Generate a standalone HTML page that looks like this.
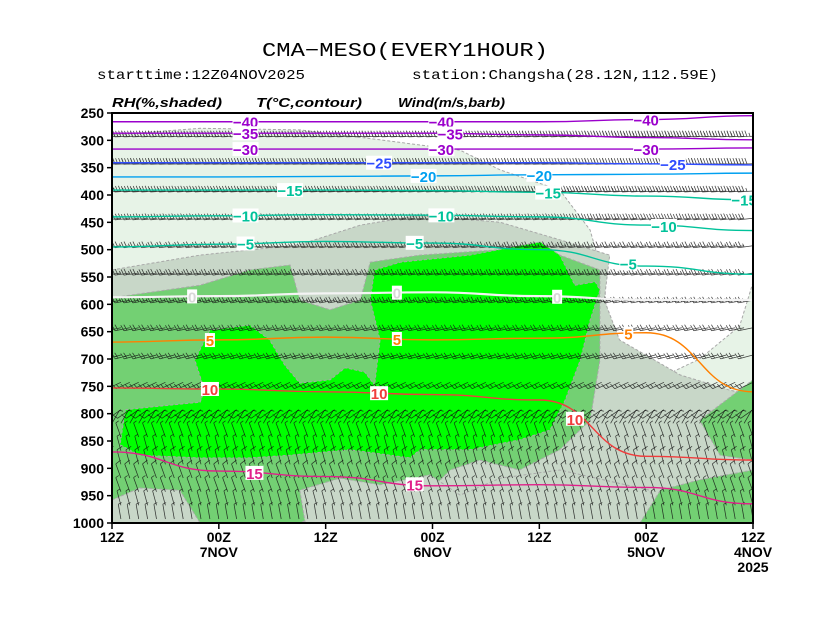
<!DOCTYPE html>
<html><head><meta charset="utf-8"><style>
html,body{margin:0;padding:0;background:#fff;}
svg{display:block;font-family:"Liberation Sans",sans-serif;}
</style></head><body>
<svg id="c" width="827" height="639" viewBox="0 0 827 639">
<rect width="827" height="639" fill="#fff"/>
<text x="405" y="56" text-anchor="middle" font-size="19" font-family="Liberation Mono,monospace" textLength="286" lengthAdjust="spacingAndGlyphs">CMA−MESO(EVERY1HOUR)</text>
<text x="97" y="79" font-size="14" font-family="Liberation Mono,monospace" textLength="208" lengthAdjust="spacingAndGlyphs">starttime:12Z04NOV2025</text>
<text x="412" y="79" font-size="14" font-family="Liberation Mono,monospace" textLength="306" lengthAdjust="spacingAndGlyphs">station:Changsha(28.12N,112.59E)</text>
<text x="112" y="107" font-size="13" font-weight="bold" font-style="italic" textLength="110" lengthAdjust="spacingAndGlyphs">RH(%,shaded)</text>
<text x="256" y="107" font-size="13" font-weight="bold" font-style="italic" textLength="106" lengthAdjust="spacingAndGlyphs">T(°C,contour)</text>
<text x="398" y="107" font-size="13" font-weight="bold" font-style="italic" textLength="107" lengthAdjust="spacingAndGlyphs">Wind(m/s,barb)</text>
<defs><clipPath id="pc"><rect x="112" y="113" width="641" height="410"/></clipPath></defs>
<g id="plot" clip-path="url(#pc)"></g>
<rect x="112" y="113" width="641" height="410" fill="none" stroke="#000" stroke-width="2"/>
<g id="axes"></g>
</svg>
<script>
// ---- data ----
const pressureTicks = [250,300,350,400,450,500,550,600,650,700,750,800,850,900,950,1000];
const timeTicks = [72,60,48,36,24,12,0];
const timeLabels = ["12Z","00Z","12Z","00Z","12Z","00Z","12Z"];
const dateLabels = ["","7NOV","","6NOV","","5NOV","4NOV"];
// RH shading polygons, [hour, hPa]
const rhWhite = [[72,250],[0,250],[0,560],[1.5,640],[6,700],[10.5,735],[16.1,700],[16.7,556],[18.3,464],[21.7,391],[28.4,354],[32.9,318],[41.9,299],[50.9,281],[62.1,278],[72,290]];
const rhGray = [[72,537],[62.1,510],[50.9,491],[44.1,455],[37.4,437],[28.4,450],[21.7,482],[16.1,510],[16.7,592],[15,665],[8.2,729],[2.6,757],[0,766],[0,1000],[72,1000]];
const rhMid1 = [[72,588],[62.1,565],[56.5,537],[52,528],[50.9,592],[47.5,610],[44.1,592],[43,523],[37.4,510],[28.4,500],[21.7,510],[17.2,537],[17.2,702],[18.3,812],[21.7,866],[26.2,903],[30.7,885],[34,903],[37.4,958],[47.5,976],[50.9,1000],[72,1000]];
const rhGray2 = [[72,958],[68.9,936],[64.4,940],[62.1,1000],[72,1000]];
const rhGray3 = [[50.3,1000],[50.9,940],[46.4,918],[41.9,930],[36.3,912],[32.9,949],[28.4,918],[21.7,903],[11.6,940],[10.4,1000]];
const rhMidR1 = [[6,812],[0,738],[0,885],[3.7,876]];
const rhMidR2 = [[12.7,1000],[10.4,940],[6,921],[0,903],[0,1000]];
const rhHigh = [[70.5,793],[67.7,788],[62.1,779],[61.6,757],[62.7,702],[61,647],[56.5,638],[54.3,665],[52.6,711],[50.9,744],[47.5,738],[45.8,716],[43.6,724],[42.5,748],[41.9,665],[43,592],[42.5,537],[39.6,523],[31.8,510],[23.9,486],[21.7,510],[20,565],[17.7,559],[17.2,574],[18.3,629],[19.4,702],[21.1,775],[22.8,830],[26.2,848],[31.8,866],[37.4,866],[38.5,881],[40.8,876],[45.3,866],[52,876],[56.5,881],[62.1,881],[68.9,876],[71.1,857]];
// temperature contours: pressure at hours 72,60,48,36,24,12,0
const contourHours = [72,60,48,36,24,12,0];
const tValues = [-40,-35,-30,-25,-20,-15,-10,-5,0,5,10,15];
const tPressures = [
 [266,266,266,266,266,262,255],
 [287,287,287,287,290,295,299],
 [316,316,316,316,316,316,314],
 [341,341,341,341,341,343,345],
 [367,367,366,365,363,362,360],
 [391,391,391,392,395,402,409],
 [440,438,436,437,440,455,465],
 [495,490,485,488,500,530,545],
 [587,585,580,578,585,592,592],
 [669,665,660,665,662,652,760],
 [753,755,760,765,775,878,885],
 [870,905,915,932,930,935,965]];
const tLabelHours = [[57,35,12],[57,34],[57,35,12],[42,9],[37,24],[52,23,1],[57,35,10],[57,38,14],[63,40,22],[61,40,14],[61,42,20],[56,38]];
// wind
const windLevels = [300,350,400,450,500,550,600,650,700,750,800,825,850,875,900,925,950,975,1000];
const windDir = [268,268,266,264,262,262,260,258,255,245,235,30,340,345,345,340,340,345,350];
const windSpeed = [38,34,30,26,22,20,20,18,16,12,8,5,6,7,8,8,7,6,5];
</script>
<script>
const NS="http://www.w3.org/2000/svg";
const X0=112,X1=753,Y0=113,Y1=523;
const xs=h=>X1-h*(X1-X0)/72;
const ys=p=>Y0+(p-250)*(Y1-Y0)/750;
const plot=document.getElementById('plot'), axes=document.getElementById('axes');
function mk(tag,attrs,parent){const e=document.createElementNS(NS,tag);for(const k in attrs)e.setAttribute(k,attrs[k]);parent.appendChild(e);return e;}
function poly(pts,fill,name,dash){
  const e=mk('polygon',{points:pts.map(q=>xs(q[0]).toFixed(1)+','+ys(q[1]).toFixed(1)).join(' '),fill:fill,stroke:dash?'#a8a8a8':'none','stroke-width':1,'stroke-dasharray':'3 2'},plot);
  
  
}
const base=mk('rect',{x:X0,y:Y0,width:X1-X0,height:Y1-Y0,fill:'#e7f3e7'},plot);


poly(rhWhite,'#ffffff','rh-below-30-shade',true);
poly(rhGray,'#c8d7c8','rh-50-70-shade',true);
poly(rhMid1,'#73d073','rh-70-90-shade',true);
poly(rhGray2,'#c8d7c8','rh-50-70-shade-low-left',true);
poly(rhGray3,'#c8d7c8','rh-50-70-shade-low-mid',true);
poly(rhMidR1,'#73d073','rh-70-90-shade-right',true);
poly(rhMidR2,'#73d073','rh-70-90-shade-right-low',true);
poly(rhHigh,'#00ff00','rh-above-90-shade',true);
// wind barbs
windLevels.forEach((lev,i)=>{
  const d=windDir[i]*Math.PI/180, sp=windSpeed[i];
  const sx=Math.sin(d), sy=-Math.cos(d);
  const px=-sy, py=sx;
  const L=15; let path='';
  for(let h=0;h<=72;h++){
    const ax=xs(h), ay=ys(lev)-4;
    const ex=ax+sx*L, ey=ay+sy*L;
    path+=`M${ax.toFixed(1)} ${ay.toFixed(1)}L${ex.toFixed(1)} ${ey.toFixed(1)}`;
    let s=sp, pos=0;
    while(s>=8){
      const bx=ex-sx*pos, by=ey-sy*pos;
      path+=`M${bx.toFixed(1)} ${by.toFixed(1)}l${(px*6+sx*2).toFixed(1)} ${(py*6+sy*2).toFixed(1)}`;
      s-=8; pos+=3;
    }
    if(s>=4){const bx=ex-sx*pos, by=ey-sy*pos;path+=`M${bx.toFixed(1)} ${by.toFixed(1)}l${(px*3.5+sx).toFixed(1)} ${(py*3.5+sy).toFixed(1)}`;}
  }
  const e=mk('path',{d:path,stroke:'#111',fill:'none','stroke-width':0.75,opacity:0.8},plot);
  
  
});
// temperature contours
function tColor(v){if(v<=-30)return'#9b00cc';if(v==-25)return'#2f4cff';if(v==-20)return'#00a0f0';if(v<0)return'#00c29a';if(v==0)return'#f4f4f4';if(v==5)return'#ff8000';if(v==10)return'#f03c3c';return'#e0208a';}
function interp(arr,h){for(let k=0;k<contourHours.length-1;k++){const a=contourHours[k],b=contourHours[k+1];if(h<=a&&h>=b){const f=(a-h)/(a-b);return arr[k]+(arr[k+1]-arr[k])*f;}}return arr[arr.length-1];}
tValues.forEach((v,i)=>{
  const pts=contourHours.map((h,k)=>[xs(h),ys(tPressures[i][k])]);
  let d='M'+pts[0][0]+' '+pts[0][1];
  for(let k=1;k<pts.length;k++){const p0=pts[k-1],p1=pts[k];const mx=(p0[0]+p1[0])/2;d+=`C${mx} ${p0[1]} ${mx} ${p1[1]} ${p1[0]} ${p1[1]}`;}
  const c=tColor(v);
  const e=mk('path',{d:d,stroke:c,fill:'none','stroke-width':v==0?2.2:1.4},plot);
  
  
  tLabelHours[i].forEach(h=>{
    const x=xs(h),y=ys(interp(tPressures[i],h));
    const txt=(v<0?'−':'')+Math.abs(v);
    const w=txt.length*8+2;
    mk('rect',{x:x-w/2,y:y-7,width:w,height:14,fill:'#fff'},plot);
    const t=mk('text',{x:x,y:y+6,'text-anchor':'middle','font-size':15,'font-weight':'bold',fill:v==0?'#d8d8d8':c},plot);
    t.textContent=txt;
    
    
  });
});
// axes
pressureTicks.forEach(p=>{
  const y=ys(p);
  mk('line',{x1:X0-5,y1:y,x2:X0,y2:y,stroke:'#000','stroke-width':1.5},axes);
  const t=mk('text',{x:X0-8,y:y+5,'text-anchor':'end','font-size':14,'font-weight':'bold'},axes);
  t.textContent=p;
  
  
});
timeTicks.forEach((h,i)=>{
  const x=xs(h);
  mk('line',{x1:x,y1:Y1,x2:x,y2:Y1+6,stroke:'#000','stroke-width':1.5},axes);
  const t=mk('text',{x:x,y:Y1+19,'text-anchor':'middle','font-size':14,'font-weight':'bold'},axes);
  t.textContent=timeLabels[i];
  
  
  if(dateLabels[i]){
    const t2=mk('text',{x:x,y:Y1+34,'text-anchor':'middle','font-size':14,'font-weight':'bold'},axes);
    t2.textContent=dateLabels[i];
    
    
  }
});
const yr=mk('text',{x:xs(0),y:Y1+49,'text-anchor':'middle','font-size':14,'font-weight':'bold'},axes);
yr.textContent='2025';


</script>
</body></html>
